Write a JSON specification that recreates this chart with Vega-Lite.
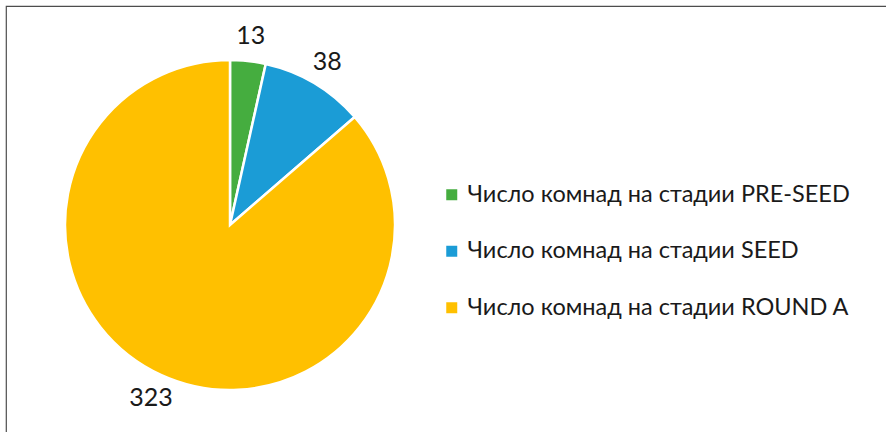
{
  "$schema": "https://vega.github.io/schema/vega-lite/v6.json",
  "autosize": "none",
  "width": 880,
  "height": 426,
  "padding": {"left": 6, "top": 6, "right": 0, "bottom": 0},
  "background": "white",
  "view": {"stroke": "#4d4d4d", "strokeWidth": 1.2, "strokeDash": [880, 1306, 426, 0]},
  "config": {
    "font": "Lato"
  },
  "data": {
    "values": [
      {"stage": "Число комнад на стадии PRE-SEED", "count": 13, "ord": 1},
      {"stage": "Число комнад на стадии SEED", "count": 38, "ord": 2},
      {"stage": "Число комнад на стадии ROUND A", "count": 323, "ord": 3}
    ]
  },
  "encoding": {
    "theta": {"field": "count", "type": "quantitative", "stack": true},
    "order": {"field": "ord", "type": "quantitative"}
  },
  "layer": [
    {
      "mark": {"type": "arc", "outerRadius": 165, "x": 224, "y": 219, "stroke": "white", "strokeWidth": 2.5},
      "encoding": {
        "color": {
          "field": "stage",
          "type": "nominal",
          "scale": {
            "domain": ["Число комнад на стадии PRE-SEED", "Число комнад на стадии SEED", "Число комнад на стадии ROUND A"],
            "range": ["#45AD3F", "#1B9CD6", "#FFC000"]
          },
          "legend": {
            "title": null,
            "orient": "none",
            "legendX": 434,
            "legendY": 177,
            "padding": 0,
            "symbolType": "square",
            "symbolSize": 121,
            "symbolStrokeWidth": 0,
            "labelFontSize": 23.5,
            "labelFont": "Lato",
            "labelColor": "#1a1a1a",
            "labelOffset": 4,
            "labelLimit": 500,
            "rowPadding": 31.5
          }
        }
      }
    },
    {
      "mark": {"type": "text", "radius": 190, "x": 224, "y": 219, "fontSize": 25, "font": "Lato", "color": "#1a1a1a"},
      "encoding": {
        "text": {"field": "count", "type": "quantitative"}
      }
    }
  ]
}
